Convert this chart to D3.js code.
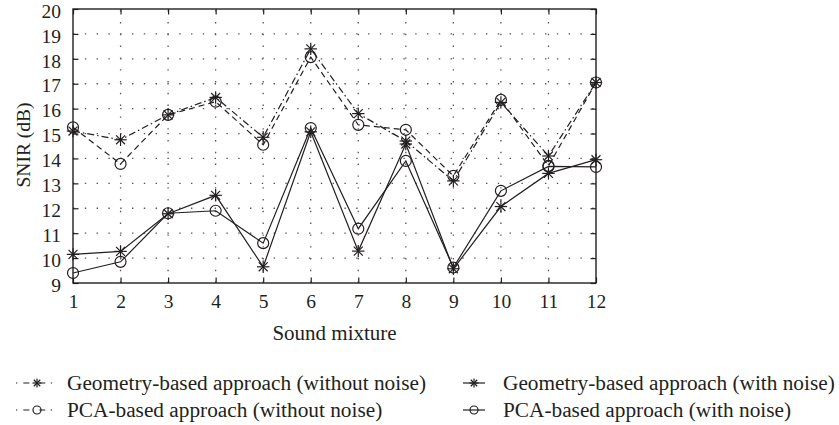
<!DOCTYPE html>
<html>
<head>
<meta charset="utf-8">
<script src="https://cdn.jsdelivr.net/npm/d3@7"></script>
<style>
  html, body { margin: 0; padding: 0; background: #fff; }
  svg { display: block; }
  text { font-family: "Liberation Serif", "DejaVu Serif", serif; fill: #231f20; }
</style>
</head>
<body>
<svg id="chart" width="839" height="425"></svg>
<script>
// Sound mixtures on the x axis
const mixtures = [1, 2, 3, 4, 5, 6, 7, 8, 9, 10, 11, 12];

// SNIR (dB) per mixture for each approach
const geometryClean = [15.1, 14.75, 15.75, 16.45, 14.85, 18.4, 15.8, 14.7, 13.1, 16.25, 14.1, 17.05];
const pcaClean      = [15.25, 13.78, 15.75, 16.28, 14.55, 18.07, 15.35, 15.15, 13.3, 16.35, 13.7, 17.05];
const geometryNoisy = [10.15, 10.27, 11.78, 12.52, 9.65, 15.07, 10.28, 14.58, 9.57, 12.07, 13.4, 13.95];
const pcaNoisy      = [9.4, 9.85, 11.8, 11.9, 10.6, 15.22, 11.18, 13.9, 9.62, 12.7, 13.68, 13.66];

const yTicks = [9, 10, 11, 12, 13, 14, 15, 16, 17, 18, 19, 20];

const seriesNames = [
  "Geometry-based approach (without noise)",
  "Geometry-based approach (with noise)",
  "PCA-based approach (without noise)",
  "PCA-based approach (with noise)"
];

const ink = "#231f20";
const svg = d3.select("#chart");

const plot = { left: 73, right: 596, top: 9, bottom: 283 };

const x = d3.scaleLinear().domain([1, 12]).range([plot.left, plot.right]);
const y = d3.scaleLinear().domain([9, 20]).range([plot.bottom, plot.top]);

// dotted grid
const grid = svg.append("g").attr("stroke", "#555").attr("stroke-width", 1.3)
  .attr("stroke-dasharray", "1.4,10.4");
grid.selectAll("line.v").data(mixtures.slice(1, -1)).join("line")
  .attr("x1", d => x(d)).attr("x2", d => x(d))
  .attr("y1", plot.bottom).attr("y2", plot.top);
grid.selectAll("line.h").data(yTicks.slice(1, -1)).join("line")
  .attr("x1", plot.left).attr("x2", plot.right)
  .attr("y1", d => y(d)).attr("y2", d => y(d));

// axes with inward ticks on all four sides
const tickLen = 5.5;
const bottomAxis = svg.append("g").attr("transform", `translate(0,${plot.bottom})`)
  .call(d3.axisBottom(x).tickValues(mixtures).tickFormat(d3.format("d"))
    .tickSizeInner(-tickLen).tickSizeOuter(0).tickPadding(11));
const topAxis = svg.append("g").attr("transform", `translate(0,${plot.top})`)
  .call(d3.axisTop(x).tickValues(mixtures).tickFormat("")
    .tickSizeInner(-tickLen).tickSizeOuter(0));
const leftAxis = svg.append("g").attr("transform", `translate(${plot.left},0)`)
  .call(d3.axisLeft(y).tickValues(yTicks).tickFormat(d3.format("d"))
    .tickSizeInner(-tickLen).tickSizeOuter(0).tickPadding(12));
const rightAxis = svg.append("g").attr("transform", `translate(${plot.right},0)`)
  .call(d3.axisRight(y).tickValues(yTicks).tickFormat("")
    .tickSizeInner(-tickLen).tickSizeOuter(0));

[bottomAxis, topAxis, leftAxis, rightAxis].forEach(g => {
  g.select(".domain").remove();
  g.selectAll(".tick line").attr("stroke", ink).attr("stroke-width", 1.2);
  g.selectAll("text").attr("font-size", 19.5).attr("fill", ink)
    .attr("font-family", "Liberation Serif, serif");
});
leftAxis.selectAll("text").attr("dy", "0.42em");

// frame
svg.append("rect")
  .attr("x", plot.left).attr("y", plot.top)
  .attr("width", plot.right - plot.left).attr("height", plot.bottom - plot.top)
  .attr("fill", "none").attr("stroke", ink).attr("stroke-width", 1.4);

// axis titles
svg.append("text").attr("x", (plot.left + plot.right) / 2).attr("y", 340)
  .attr("text-anchor", "middle").attr("font-size", 21).text("Sound mixture");
svg.append("text").attr("transform", "translate(30,145) rotate(-90)")
  .attr("text-anchor", "middle").attr("font-size", 19.5).text("SNIR (dB)");

// markers
function asterisk(g, cx, cy, r) {
  const p = g.append("g").attr("transform", `translate(${cx},${cy})`)
    .attr("stroke", ink).attr("stroke-width", 1.2);
  p.append("line").attr("x1", -r).attr("x2", r).attr("y1", 0).attr("y2", 0);
  p.append("line").attr("x1", 0).attr("x2", 0).attr("y1", -r).attr("y2", r);
  const d = r * 0.72;
  p.append("line").attr("x1", -d).attr("x2", d).attr("y1", -d).attr("y2", d);
  p.append("line").attr("x1", -d).attr("x2", d).attr("y1", d).attr("y2", -d);
}
function circle(g, cx, cy, r) {
  g.append("circle").attr("cx", cx).attr("cy", cy).attr("r", r)
    .attr("fill", "none").attr("stroke", ink).attr("stroke-width", 1.2);
}

const series = [
  { values: geometryClean, dash: "7,3,1.5,3", marker: "star" },
  { values: pcaClean,      dash: "6,4",       marker: "circle" },
  { values: geometryNoisy, dash: null,        marker: "star" },
  { values: pcaNoisy,      dash: null,        marker: "circle" }
];

const line = d3.line().x((d, i) => x(mixtures[i])).y(d => y(d));
const marks = svg.append("g");
series.forEach(s => {
  marks.append("path").datum(s.values).attr("d", line)
    .attr("fill", "none").attr("stroke", ink).attr("stroke-width", 1.2)
    .attr("stroke-dasharray", s.dash);
});
series.forEach(s => {
  s.values.forEach((v, i) => {
    if (s.marker === "star") asterisk(marks, x(mixtures[i]), y(v), 6.2);
    else circle(marks, x(mixtures[i]), y(v), 5.5);
  });
});

// legend, two columns
const legendItems = [
  { name: seriesNames[0], s: series[0], lx: 16, rowY: 383, w: 42, tx: 67 },
  { name: seriesNames[2], s: series[1], lx: 16, rowY: 410, w: 42, tx: 67 },
  { name: seriesNames[1], s: series[2], lx: 463, rowY: 383, w: 22, tx: 503 },
  { name: seriesNames[3], s: series[3], lx: 463, rowY: 410, w: 22, tx: 503 }
];
const legend = svg.append("g");
legendItems.forEach(it => {
  if (it.s.dash) {
    // dotted ends with short dashes beside the marker
    legend.append("line").attr("x1", it.lx).attr("x2", it.lx + it.w)
      .attr("y1", it.rowY).attr("y2", it.rowY)
      .attr("stroke", ink).attr("stroke-width", 1.2)
      .attr("stroke-dasharray", "1.3,6,6,1,0,9,6,5.5,1.3,50");
  } else {
    legend.append("line").attr("x1", it.lx).attr("x2", it.lx + it.w)
      .attr("y1", it.rowY).attr("y2", it.rowY)
      .attr("stroke", ink).attr("stroke-width", 1.2);
  }
  const mx = it.lx + it.w / 2;
  if (it.s.marker === "star") asterisk(legend, mx, it.rowY, 4.5);
  else circle(legend, mx, it.rowY, 4);
  legend.append("text").attr("x", it.tx).attr("y", it.rowY).attr("dy", "0.33em")
    .attr("font-size", 21.3).text(it.name);
});
</script>
</body>
</html>
